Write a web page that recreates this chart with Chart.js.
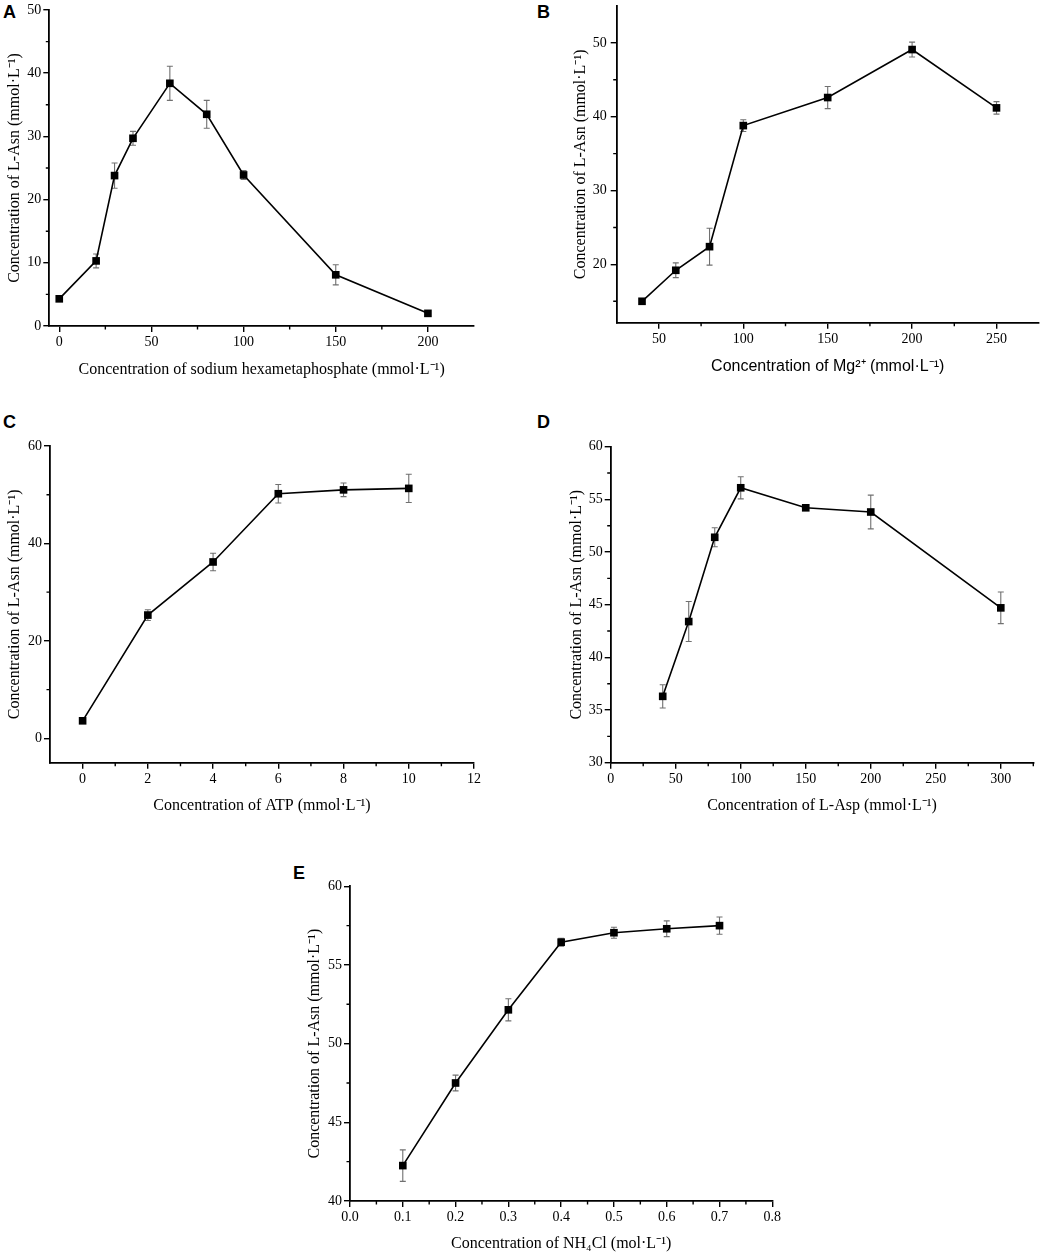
<!DOCTYPE html>
<html>
<head>
<meta charset="utf-8">
<script src="https://cdn.jsdelivr.net/npm/chart.js@4.4.1/dist/chart.umd.min.js"></script>
<style>
  body { margin: 0; background: #fff; }
  #wrap { position: relative; width: 1045px; height: 1257px; overflow: hidden; }
  #wrap canvas { position: absolute; }
  .tag { position: absolute; font: bold 18px "Liberation Sans", Arial, sans-serif; line-height: 1; color: #000; }
</style>
</head>
<body>
<div id="wrap">
  <div class="tag" style="left:3px;top:3px">A</div>
  <div class="tag" style="left:537px;top:3px">B</div>
  <div class="tag" style="left:3px;top:413px">C</div>
  <div class="tag" style="left:537px;top:413px">D</div>
  <div class="tag" style="left:293px;top:864px">E</div>
</div>
<script>
// panel A - sodium hexametaphosphate
const xA = [0, 20, 30, 40, 60, 80, 100, 150, 200];
const yA = [4.3, 10.3, 23.8, 29.7, 38.4, 33.5, 23.9, 8.1, 2.0];
const eA = [0.3, 1.1, 2.0, 1.1, 2.7, 2.2, 0.7, 1.6, 0.3];
const xTicksA = [0, 50, 100, 150, 200];
const xMinorA = [25, 75, 125, 175];
const yTicksA = [0, 10, 20, 30, 40, 50];
const yMinorA = [5, 15, 25, 35, 45];

// panel B - Mg2+
const xB = [40, 60, 80, 100, 150, 200, 250];
const yB = [15.0, 19.2, 22.4, 38.8, 42.6, 49.1, 41.2];
const eB = [0.3, 1.0, 2.5, 0.8, 1.5, 1.0, 0.85];
const xTicksB = [50, 100, 150, 200, 250];
const xMinorB = [75, 125, 175, 225];
const yTicksB = [20, 30, 40, 50];
const yMinorB = [15, 25, 35, 45];

// panel C - ATP
const xC = [0, 2, 4, 6, 8, 10];
const yC = [3.6, 25.3, 36.2, 50.2, 51.0, 51.3];
const eC = [0.3, 1.1, 1.8, 1.9, 1.4, 2.9];
const xTicksC = [0, 2, 4, 6, 8, 10, 12];
const xMinorC = [1, 3, 5, 7, 9, 11];
const yTicksC = [0, 20, 40, 60];
const yMinorC = [10, 30, 50];

// panel D - L-Asp
const xD = [40, 60, 80, 100, 150, 200, 300];
const yD = [36.3, 43.4, 51.4, 56.1, 54.2, 53.8, 44.7];
const eD = [1.1, 1.9, 0.9, 1.05, 0.2, 1.6, 1.5];
const xTicksD = [0, 50, 100, 150, 200, 250, 300];
const xMinorD = [25, 75, 125, 175, 225, 275, 325];
const yTicksD = [30, 35, 40, 45, 50, 55, 60];
const yMinorD = [32.5, 37.5, 42.5, 47.5, 52.5, 57.5];

// panel E - NH4Cl
const xE = [0.1, 0.2, 0.3, 0.4, 0.5, 0.6, 0.7];
const yE = [42.25, 47.5, 52.15, 56.45, 57.05, 57.3, 57.5];
const eE = [1.0, 0.5, 0.7, 0.25, 0.35, 0.5, 0.55];
const xTicksE = [0, 0.1, 0.2, 0.3, 0.4, 0.5, 0.6, 0.7, 0.8];
const xMinorE = [0.05, 0.15, 0.25, 0.35, 0.45, 0.55, 0.65, 0.75];
const yTicksE = [40, 45, 50, 55, 60];
const yMinorE = [42.5, 47.5, 52.5, 57.5];

const yLabel = 'Concentration of L-Asn (mmol\u00b7L\u207b\u00b9)';

Chart.defaults.font.family = '"Liberation Serif", "Times New Roman", serif';
Chart.defaults.color = '#000';

// error bars drawn from the dataset's err array through the scales
const errorBars = {
  id: 'errorBars',
  beforeDatasetsDraw(chart) {
    const ctx = chart.ctx;
    const x = chart.scales.x, y = chart.scales.y;
    const ds = chart.data.datasets[0];
    ctx.save();
    ctx.strokeStyle = '#707070';
    ctx.lineWidth = 1.1;
    ds.data.forEach((p, i) => {
      const e = ds.err[i];
      const px = x.getPixelForValue(p.x);
      const top = y.getPixelForValue(p.y + e);
      const bot = y.getPixelForValue(p.y - e);
      ctx.beginPath();
      ctx.moveTo(px, top); ctx.lineTo(px, bot);
      ctx.moveTo(px - 3, top); ctx.lineTo(px + 3, top);
      ctx.moveTo(px - 3, bot); ctx.lineTo(px + 3, bot);
      ctx.stroke();
    });
    ctx.restore();
  }
};

// short outward minor ticks
function minorTicks(xm, ym) {
  return {
    id: 'minorTicks',
    afterDraw(chart) {
      const ctx = chart.ctx;
      const x = chart.scales.x, y = chart.scales.y;
      const a = chart.chartArea;
      ctx.save();
      ctx.strokeStyle = '#000';
      ctx.lineWidth = 1.4;
      ctx.beginPath();
      xm.forEach(v => {
        const px = x.getPixelForValue(v);
        ctx.moveTo(px, a.bottom); ctx.lineTo(px, a.bottom + 3.5);
      });
      ym.forEach(v => {
        const py = y.getPixelForValue(v);
        ctx.moveTo(a.left, py); ctx.lineTo(a.left - 3.5, py);
      });
      ctx.stroke();
      ctx.restore();
    }
  };
}

function makePanel(c) {
  const canvas = document.createElement('canvas');
  canvas.width = c.box.w;
  canvas.height = c.box.h;
  canvas.style.left = c.box.x + 'px';
  canvas.style.top = c.box.y + 'px';
  document.getElementById('wrap').appendChild(canvas);

  const p = c.plot;
  const titleSize = 16, lh = titleSize * 1.2;
  const yW = p.l - c.box.x;
  const xH = c.box.y + c.box.h - p.b;

  const noPad = s => { s.paddingLeft = 0; s.paddingRight = 0; s.paddingTop = 0; s.paddingBottom = 0; };

  new Chart(canvas, {
    type: 'scatter',
    data: {
      datasets: [{
        data: c.xs.map((v, i) => ({ x: v, y: c.ys[i] })),
        err: c.err,
        showLine: true,
        borderColor: '#000',
        borderWidth: 1.6,
        backgroundColor: '#000',
        pointStyle: 'rect',
        pointRadius: 5.4,
        pointBorderWidth: 0,
        pointHoverRadius: 5.4,
        clip: false
      }]
    },
    options: {
      responsive: false,
      animation: false,
      events: [],
      layout: { padding: { left: 0, top: p.t - c.box.y, right: c.box.x + c.box.w - p.r, bottom: 0 } },
      plugins: { legend: { display: false }, tooltip: { enabled: false } },
      scales: {
        x: {
          type: 'linear',
          min: c.xr[0], max: c.xr[1],
          afterBuildTicks: s => { s.ticks = c.xt.map(v => ({ value: v })); },
          afterFit: s => { s.height = xH; noPad(s); },
          border: { display: true, color: '#000', width: 1.8 },
          grid: { display: true, drawOnChartArea: false, drawTicks: true, tickLength: 6, color: '#000', lineWidth: 1.4 },
          ticks: {
            autoSkip: false, maxRotation: 0, padding: 2,
            font: { size: 14 },
            callback: v => c.xfmt ? c.xfmt(v) : String(v)
          },
          title: {
            display: true, text: c.xtitle,
            font: { size: titleSize, family: c.xTitleFont, lineHeight: 1.2 },
            padding: { top: 0, bottom: c.box.y + c.box.h - c.xTitleY - lh / 2 }
          }
        },
        y: {
          type: 'linear',
          min: c.yr[0], max: c.yr[1],
          afterBuildTicks: s => { s.ticks = c.yt.map(v => ({ value: v })); },
          afterFit: s => { s.width = yW; noPad(s); },
          border: { display: true, color: '#000', width: 1.8 },
          grid: { display: true, drawOnChartArea: false, drawTicks: true, tickLength: 6, color: '#000', lineWidth: 1.4 },
          ticks: { autoSkip: false, padding: c.yPad, font: { size: 14 }, callback: v => String(v) },
          title: {
            display: true, text: yLabel,
            font: { size: titleSize, lineHeight: 1.2 },
            padding: { top: c.yTitleX - c.box.x - lh / 2, bottom: 0 }
          }
        }
      }
    },
    plugins: [errorBars, minorTicks(c.xm, c.ym)]
  });
}

makePanel({
  box: { x: 0, y: 0, w: 520, h: 395 }, plot: { l: 49.3, r: 474, t: 10, b: 326 },
  yTitleX: 15, xTitleY: 370, yPad: 2,
  xs: xA, ys: yA, err: eA, xr: [-5.4, 225], yr: [0, 50],
  xt: xTicksA, xm: xMinorA, yt: yTicksA, ym: yMinorA,
  xtitle: 'Concentration of sodium hexametaphosphate (mmol\u00b7L\u207b\u00b9)'
});

makePanel({
  box: { x: 525, y: 0, w: 520, h: 395 }, plot: { l: 616.7, r: 1038.7, t: 6, b: 322.7 },
  yTitleX: 581, xTitleY: 366.7, yPad: 4,
  xs: xB, ys: yB, err: eB, xr: [25, 275], yr: [12.1, 55],
  xt: xTicksB, xm: xMinorB, yt: yTicksB, ym: yMinorB,
  xtitle: 'Concentration of Mg\u00b2\u207a (mmol\u00b7L\u207b\u00b9)',
  xTitleFont: '"Liberation Sans", Arial, sans-serif'
});

makePanel({
  box: { x: 0, y: 400, w: 520, h: 425 }, plot: { l: 50, r: 474, t: 446, b: 762.7 },
  yTitleX: 14.5, xTitleY: 806, yPad: 2,
  xs: xC, ys: yC, err: eC, xr: [-1, 12], yr: [-5, 60],
  xt: xTicksC, xm: xMinorC, yt: yTicksC, ym: yMinorC,
  xtitle: 'Concentration of ATP (mmol\u00b7L\u207b\u00b9)'
});

makePanel({
  box: { x: 525, y: 400, w: 520, h: 425 }, plot: { l: 610.7, r: 1033.3, t: 446.7, b: 762.7 },
  yTitleX: 576.7, xTitleY: 806, yPad: 2,
  xs: xD, ys: yD, err: eD, xr: [0, 325], yr: [30, 60],
  xt: xTicksD, xm: xMinorD, yt: yTicksD, ym: yMinorD,
  xtitle: 'Concentration of L-Asp (mmol\u00b7L\u207b\u00b9)'
});

makePanel({
  box: { x: 280, y: 830, w: 540, h: 427 }, plot: { l: 350, r: 772.3, t: 886.3, b: 1201 },
  yTitleX: 315, xTitleY: 1243.3, yPad: 2,
  xs: xE, ys: yE, err: eE, xr: [0, 0.8], yr: [40, 60],
  xt: xTicksE, xm: xMinorE, yt: yTicksE, ym: yMinorE,
  xfmt: v => v.toFixed(1),
  xtitle: 'Concentration of NH\u2084Cl (mol\u00b7L\u207b\u00b9)'
});
</script>
</body>
</html>
